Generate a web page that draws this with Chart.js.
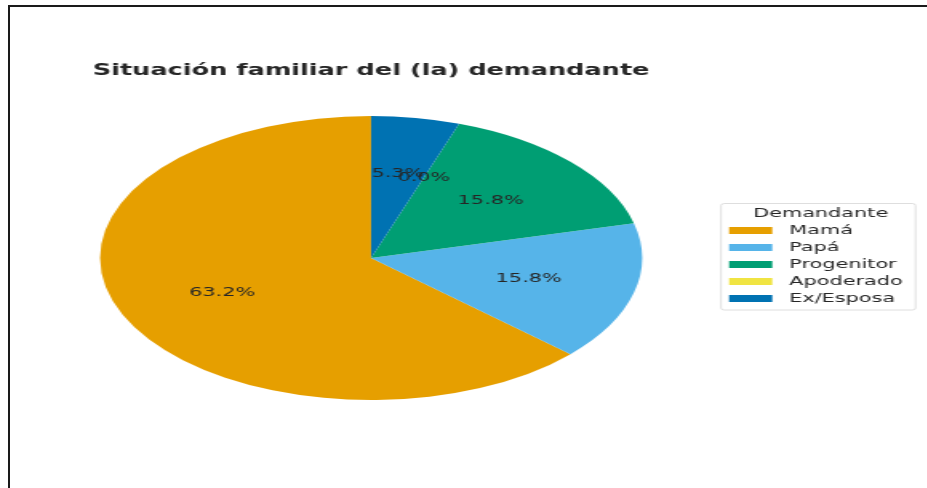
<!DOCTYPE html>
<html>
<head>
<meta charset="utf-8">
<script src="https://cdn.jsdelivr.net/npm/chart.js@4"></script>
<style>
    html, body { margin: 0; padding: 0; background: #fff; overflow: hidden; }
    #wrap { position: relative; width: 927px; height: 488px; }
    #pie { position: absolute; left: 0; top: 0; transform: scaleX(1.6); transform-origin: 0 0; }
    #frame { position: absolute; left: 8px; top: 5px; right: 0; bottom: 0; border-top: 2px solid #1a1a1a; border-left: 2px solid #1a1a1a; }
</style>
</head>
<body>
<div id="wrap">
    <canvas id="pie" width="580" height="488"></canvas>
    <div id="frame"></div>
</div>
<script>
const chartTitle = "Situación familiar del (la) demandante";
const legendTitle = "Demandante";
const categories = ["Mamá", "Papá", "Progenitor", "Apoderado", "Ex/Esposa"];
const counts = [12, 3, 3, 0, 1];
const sliceColors = ["#E69F00", "#56B4E9", "#009E73", "#F0E442", "#0072B2"];

const TEXT = "#262626";
const STRETCH = 1.193; // pie is wider than tall in the picture

// draw the pie counter-clockwise (mirrored) and stretched horizontally
const ellipsePie = {
    id: "ellipsePie",
    beforeDatasetsDraw(chart) {
        const arc = chart.getDatasetMeta(0).data[0];
        const ctx = chart.ctx;
        ctx.save();
        ctx.translate(arc.x, arc.y);
        ctx.scale(-STRETCH, 1);
        ctx.translate(-arc.x, -arc.y);
    },
    afterDatasetsDraw(chart) {
        const ctx = chart.ctx;
        ctx.restore();
        const total = counts.reduce((a, b) => a + b, 0);
        ctx.save();
        ctx.font = "13px 'DejaVu Sans'";
        ctx.fillStyle = TEXT;
        ctx.textAlign = "center";
        ctx.textBaseline = "middle";
        chart.getDatasetMeta(0).data.forEach((arc, i) => {
            const mid = (arc.startAngle + arc.endAngle) / 2;
            const r = arc.outerRadius * 0.6;
            const x = arc.x - STRETCH * r * Math.cos(mid);
            const y = arc.y + r * Math.sin(mid);
            ctx.fillText((counts[i] / total * 100).toFixed(1) + "%", x, y);
        });
        ctx.restore();
    }
};

// matplotlib style frame round the legend
const legendFrame = {
    id: "legendFrame",
    afterDraw(chart) {
        const lg = chart.legend;
        const boxes = lg.legendHitBoxes;
        if (!boxes || !boxes.length) return;
        const last = boxes[boxes.length - 1];
        const x0 = boxes[0].left - 5;
        const x1 = lg.right - 2;
        const y0 = boxes[0].top - 20.5;
        const y1 = last.top + last.height + 5;
        const ctx = chart.ctx;
        ctx.save();
        ctx.strokeStyle = "#d6d6d6";
        ctx.lineWidth = 0.8;
        ctx.beginPath();
        ctx.roundRect(x0, y0, x1 - x0, y1 - y0, 2);
        ctx.stroke();
        ctx.restore();
    }
};

new Chart(document.getElementById("pie").getContext("2d"), {
    type: "pie",
    data: {
        labels: categories,
        datasets: [{
            data: counts,
            backgroundColor: sliceColors,
            borderWidth: 0
        }]
    },
    options: {
        responsive: false,
        animation: false,
        layout: { padding: { left: 12.2, right: 5.8, top: 0, bottom: 88 } },
        plugins: {
            tooltip: { enabled: false },
            title: {
                display: true,
                text: chartTitle,
                fullSize: false,
                align: "center",
                color: TEXT,
                font: { family: "'DejaVu Sans'", size: 16, weight: "bold", lineHeight: 1.2 },
                padding: { top: 61, bottom: 35.8 }
            },
            legend: {
                position: "right",
                fullSize: false,
                align: "center",
                title: {
                    display: true,
                    text: legendTitle,
                    color: TEXT,
                    padding: 0,
                    font: { family: "'DejaVu Sans'", size: 13, lineHeight: 1.0 }
                },
                labels: {
                    color: TEXT,
                    font: { family: "'DejaVu Sans'", size: 13 },
                    boxWidth: 27,
                    boxHeight: 7,
                    padding: 4,
                    generateLabels: chart =>
                        Chart.overrides.pie.plugins.legend.labels.generateLabels(chart)
                            .map(item => ({ ...item, text: " " + item.text }))
                }
            }
        }
    },
    plugins: [ellipsePie, legendFrame]
});
</script>
</body>
</html>
